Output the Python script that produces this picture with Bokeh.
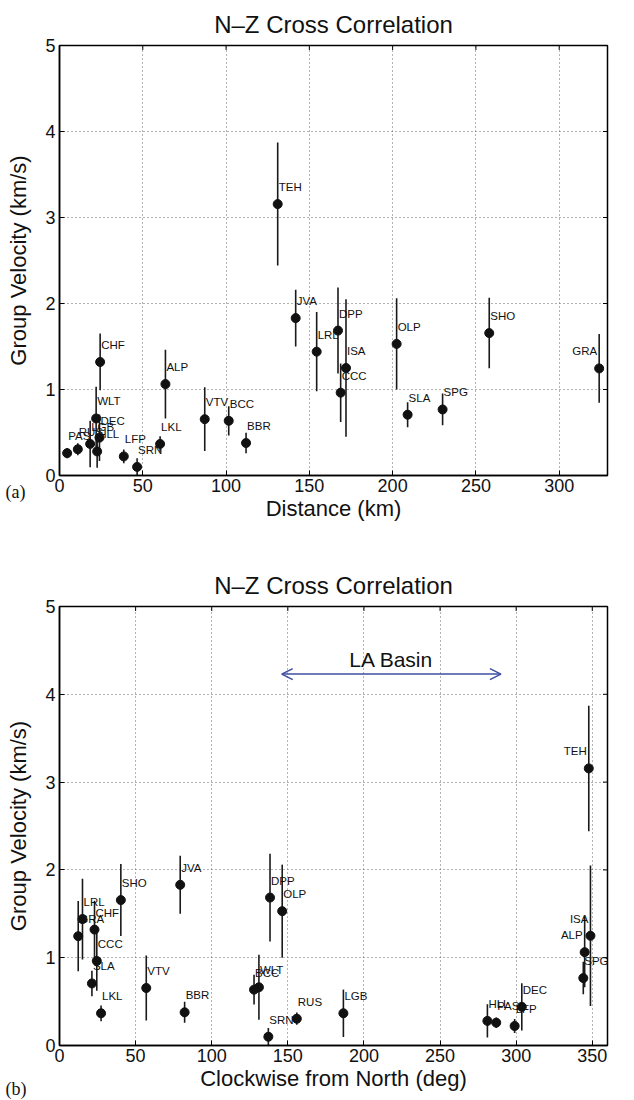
import math
from bokeh.plotting import figure
from bokeh.models import (ColumnDataSource, Label, LabelSet, Arrow, OpenHead,
                          FixedTicker, Range1d, Title)
from bokeh.layouts import column
from bokeh.embed import file_html
from bokeh.resources import INLINE
from bokeh.core.properties import value

# ---------------- data ----------------
stations = ["PAS", "RUS", "LGB", "HLL", "DEC", "WLT", "CHF", "LFP", "SRN", "LKL",
            "ALP", "VTV", "BCC", "BBR", "TEH", "JVA", "LRL", "DPP", "ISA", "CCC",
            "OLP", "SLA", "SPG", "SHO", "GRA"]
distance_km = [4.6, 11.0, 18.4, 22.6, 24.0, 22.0, 24.4, 38.6, 46.6, 60.4,
               63.6, 87.2, 101.6, 112.0, 131.0, 141.8, 154.4, 167.2, 172.0, 168.8,
               202.4, 209.0, 230.0, 258.0, 324.0]
azimuth_deg = [286.9, 155.9, 186.5, 281.1, 303.7, 131.0, 23.0, 299.0, 137.2, 27.3,
               345.0, 57.0, 127.8, 82.2, 347.7, 79.3, 15.1, 138.3, 348.8, 24.5,
               146.3, 21.3, 344.1, 40.3, 12.3]
group_velocity = [0.26, 0.305, 0.367, 0.28, 0.44, 0.663, 1.32, 0.222, 0.10, 0.367,
                  1.063, 0.655, 0.636, 0.378, 3.156, 1.83, 1.44, 1.685, 1.25, 0.963,
                  1.53, 0.707, 0.768, 1.656, 1.245]
velocity_error = [0.06, 0.07, 0.27, 0.19, 0.27, 0.37, 0.33, 0.08, 0.10, 0.09,
                  0.40, 0.37, 0.17, 0.12, 0.715, 0.33, 0.46, 0.50, 0.80, 0.34,
                  0.53, 0.145, 0.185, 0.41, 0.40]

x_ticks_distance = [0, 50, 100, 150, 200, 250, 300]
x_ticks_azimuth = [0, 50, 100, 150, 200, 250, 300, 350]
y_ticks = [0, 1, 2, 3, 4, 5]
distance_limits = [0, 329]
azimuth_limits = [0, 360]
velocity_limits = [0, 5]

basin_azimuth_range = [146, 290]
basin_arrow_velocity = 4.23
basin_label = "LA Basin"

title_text = "N\u2013Z Cross Correlation"
y_label = "Group Velocity (km/s)"
x_label_a = "Distance (km)"
x_label_b = "Clockwise from North (deg)"

FONT = "Liberation Sans"
INK = "#111111"
LEFT_BORDER = 59
LABEL_PX = 24  # approx. width of a station label in pixels


def make_panel(xvals, xlim, xticks, xlabel, tag, tag_standoff, height, b_top, b_bottom, b_right):
    lo = [v - e for v, e in zip(group_velocity, velocity_error)]
    hi = [v + e for v, e in zip(group_velocity, velocity_error)]
    src = ColumnDataSource(dict(x=xvals, y=group_velocity, lo=lo, hi=hi, name=stations))

    # labels that would run past the right frame edge are put on the left of their point
    frame_w = 634 - LEFT_BORDER - b_right
    limit = xlim[1] - LABEL_PX * (xlim[1] - xlim[0]) / frame_w
    inner = [i for i, x in enumerate(xvals) if x <= limit]
    edge = [i for i, x in enumerate(xvals) if x > limit]
    src_in = ColumnDataSource(dict(x=[xvals[i] for i in inner],
                                   y=[group_velocity[i] for i in inner],
                                   name=[stations[i] for i in inner]))
    src_edge = ColumnDataSource(dict(x=[xvals[i] for i in edge],
                                     y=[group_velocity[i] for i in edge],
                                     name=[stations[i] for i in edge]))

    p = figure(width=634, height=height, output_backend="svg", toolbar_location=None,
               x_range=Range1d(*xlim), y_range=Range1d(*velocity_limits),
               min_border_left=LEFT_BORDER, min_border_right=b_right,
               min_border_top=b_top, min_border_bottom=b_bottom,
               title=title_text)
    p.title.align = "center"
    p.title.text_font = FONT
    p.title.text_font_size = "24px"
    p.title.text_font_style = "normal"
    p.title.text_color = INK
    p.title.standoff = 16

    p.background_fill_color = "white"
    p.border_fill_color = "white"
    p.outline_line_color = "black"
    p.outline_line_width = 1.5

    # axes
    for ax in (p.xaxis[0], p.yaxis[0]):
        ax.major_tick_in = 5
        ax.major_tick_out = 0
        ax.minor_tick_in = 0
        ax.minor_tick_out = 0
        ax.axis_line_color = "black"
        ax.axis_line_width = 1.5
        ax.major_tick_line_color = "black"
        ax.major_label_text_font = FONT
        ax.major_label_text_font_size = "18px"
        ax.major_label_text_color = INK
        ax.axis_label_text_font = FONT
        ax.axis_label_text_font_size = "22px"
        ax.axis_label_text_font_style = "normal"
        ax.axis_label_text_color = INK
    p.xaxis[0].ticker = FixedTicker(ticks=xticks)
    p.yaxis[0].ticker = FixedTicker(ticks=y_ticks)
    p.xaxis[0].axis_label = xlabel
    p.yaxis[0].axis_label = y_label
    p.xaxis[0].major_label_standoff = 3
    p.xaxis[0].axis_label_standoff = 1
    p.yaxis[0].major_label_standoff = 4
    p.yaxis[0].axis_label_standoff = 11

    # grid
    p.xgrid.ticker = FixedTicker(ticks=xticks)
    p.ygrid.ticker = FixedTicker(ticks=y_ticks)
    for g in (p.xgrid[0], p.ygrid[0]):
        g.grid_line_color = "#666666"
        g.grid_line_dash = "1 3"
        g.grid_line_width = 1

    # inward tick marks on the top and right borders (half of each dash is clipped by the frame)
    p.scatter(x=xticks, y=[velocity_limits[1]] * len(xticks), marker="dash", size=9,
              angle=math.pi / 2, line_color="black", line_width=1)
    p.scatter(x=[xlim[1]] * len(y_ticks), y=y_ticks, marker="dash", size=9,
              line_color="black", line_width=1)

    # error bars, points, labels
    p.segment(x0="x", y0="lo", x1="x", y1="hi", source=src, line_color="#1a1a1a", line_width=1.6)
    p.scatter(x="x", y="y", source=src, size=9, marker="circle",
              fill_color=INK, line_color=INK)
    p.add_layout(LabelSet(x="x", y="y", text="name", source=src_in, x_offset=1, y_offset=17,
                          text_font=value(FONT), text_font_size=value("11.5px"),
                          text_color=value(INK),
                          text_align="left", text_baseline="middle"))
    p.add_layout(LabelSet(x="x", y="y", text="name", source=src_edge, x_offset=-2, y_offset=17,
                          text_font=value(FONT), text_font_size=value("11.5px"),
                          text_color=value(INK),
                          text_align="right", text_baseline="middle"))

    # panel tag below the x axis, pulled up with a negative standoff
    tag_title = Title(text=tag, align="left", offset=-54, vertical_align="top",
                      standoff=tag_standoff, text_font="Liberation Serif",
                      text_font_size="18px", text_font_style="normal", text_color=INK)
    p.add_layout(tag_title, "below")
    return p


p1 = make_panel(distance_km, distance_limits, x_ticks_distance, x_label_a, "(a)", -84,
                531, 45, 56, 27)
p2 = make_panel(azimuth_deg, azimuth_limits, x_ticks_azimuth, x_label_b, "(b)", -30,
                569, 75, 55, 18)

blue = "#3c4fa3"
p2.add_layout(Arrow(start=OpenHead(size=11, line_color=blue, line_width=1.5),
                    end=OpenHead(size=11, line_color=blue, line_width=1.5),
                    x_start=basin_azimuth_range[0], x_end=basin_azimuth_range[1],
                    y_start=basin_arrow_velocity, y_end=basin_arrow_velocity,
                    line_color=blue, line_width=1.5))
p2.add_layout(Label(x=sum(basin_azimuth_range) / 2, y=basin_arrow_velocity, y_offset=15,
                    text=basin_label, text_font=FONT, text_font_size="21px",
                    text_color=INK, text_align="center", text_baseline="middle"))

layout = column(p1, p2, spacing=0)
open("out.html", "w").write(file_html(layout, INLINE))
